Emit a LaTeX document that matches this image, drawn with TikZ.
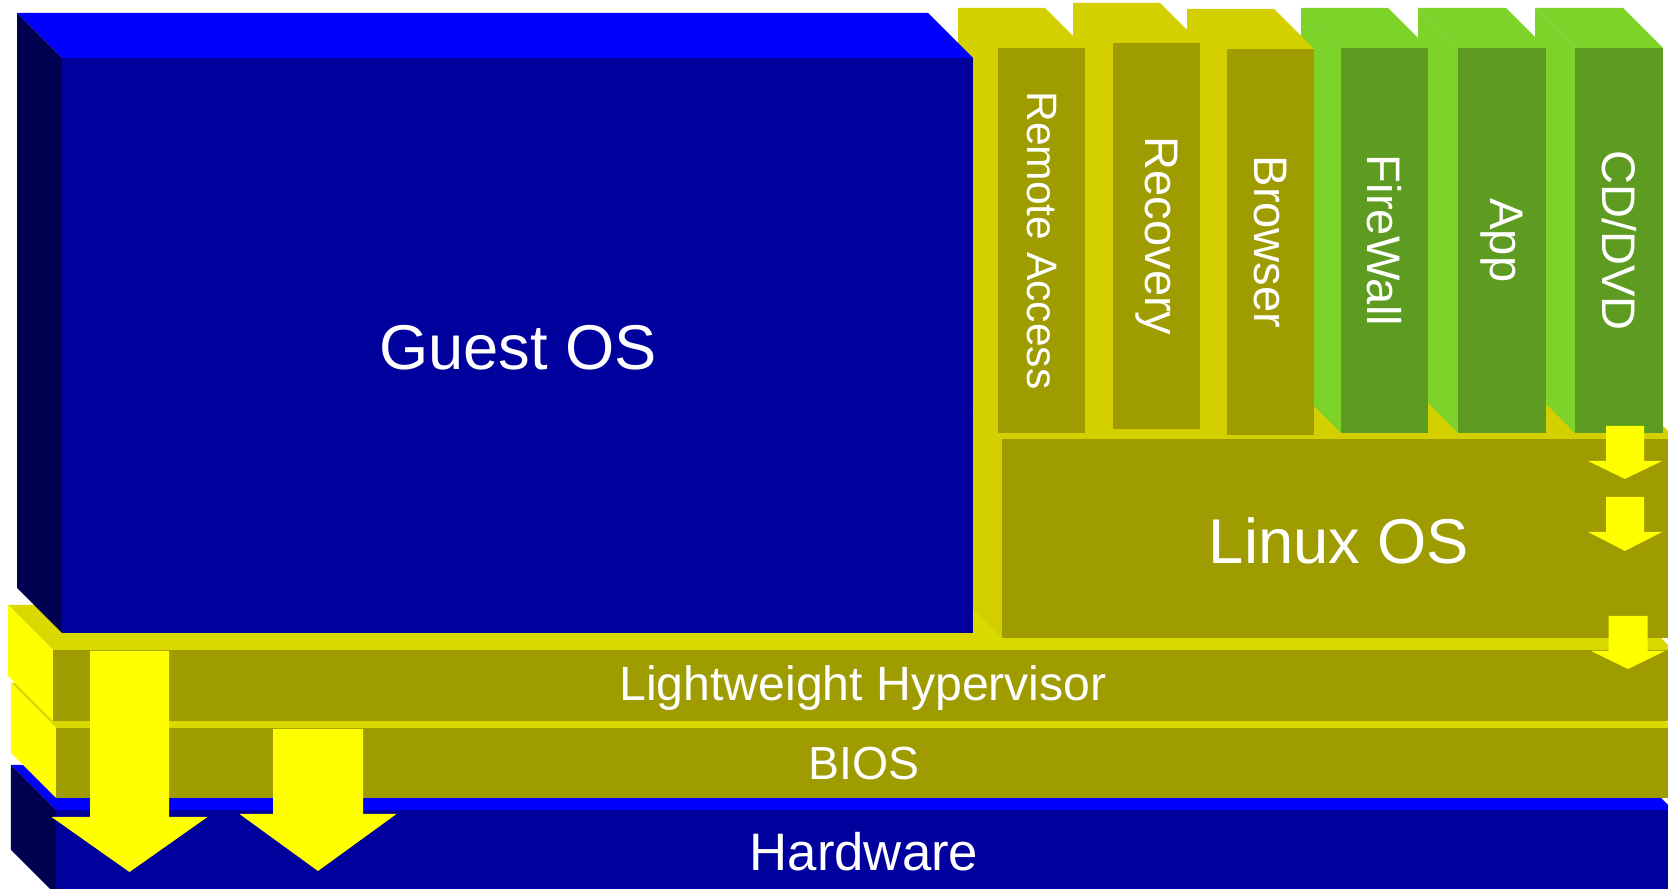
\documentclass[tikz,border=0pt]{standalone}
\usepackage{fontspec}
\setmainfont{Liberation Sans}
\usepackage{tikz}
\usepackage{xcolor}

\definecolor{topblue}{RGB}{0,0,255}
\definecolor{frontblue}{RGB}{0,0,156}
\definecolor{sideblue}{RGB}{0,0,80}
\definecolor{topolive}{RGB}{217,217,0}
\definecolor{sideolive}{RGB}{255,255,0}
\definecolor{frontolive}{RGB}{158,156,0}
\definecolor{lightolive}{RGB}{212,208,0}
\definecolor{topgreen}{RGB}{126,211,43}
\definecolor{frontgreen}{RGB}{94,156,33}
\definecolor{arrowyellow}{RGB}{255,255,0}

% front x1,y1,x2,y2, depth, top colour, side colour, front colour
\newcommand{\slab}[8]{%
  \fill[#6] (#1-#5,#2-#5) -- (#3-#5,#2-#5) -- (#3,#2) -- (#1,#2) -- cycle;
  \fill[#7] (#1-#5,#2-#5) -- (#1,#2) -- (#1,#4) -- (#1-#5,#4-#5) -- cycle;
  \fill[#8] (#1,#2) rectangle (#3,#4);
}
% centre x, half shaft, half head, top, neck, tip
\newcommand{\blockdown}[6]{%
  \fill[arrowyellow] (#1-#2,#4) -- (#1+#2,#4) -- (#1+#2,#5) -- (#1+#3,#5)
    -- (#1,#6) -- (#1-#3,#5) -- (#1-#2,#5) -- cycle;
}

\begin{document}
\begin{tikzpicture}[x=0.01cm,y=-0.01cm,
  biglbl/.style={text=white,font=\fontsize{18}{20}\selectfont},
  layerlbl/.style={text=white,font=\fontsize{13.7}{15}\selectfont},
  collbl/.style={text=white,rotate=-90,font=\fontsize{13.4}{15}\selectfont}]
  \useasboundingbox (0,0) rectangle (1668,889);
  \clip (0,0) rectangle (1668,889);

  % layers, from the bottom up
  \slab{56}{810}{1673}{895}{45}{topblue}{sideblue}{frontblue}
  \node[layerlbl,font=\fontsize{15}{17}\selectfont] (hardware) at (864,852) {Hardware};

  \slab{56}{728}{1673}{798}{45}{topolive}{sideolive}{frontolive}
  \node[layerlbl,font=\fontsize{13.2}{15}\selectfont] (bios) at (864,764) {BIOS};

  \slab{53}{650}{1673}{721}{45}{topolive}{sideolive}{frontolive}
  \node[layerlbl] (hypervisor) at (863,688) {Lightweight Hypervisor};

  \slab{1002}{439}{1676}{638}{45}{lightolive}{lightolive}{frontolive}
  \node[biglbl] (linux) at (1339,541) {Linux OS};

  % applications on top of Linux (right to left)
  \foreach \xa/\ya/\xb/\yb/\tp/\fr/\fs/\txt/\nm in {
      1575/48/1663/433/topgreen/frontgreen/13.4/{CD/DVD}/cddvd,
      1458/48/1546/433/topgreen/frontgreen/13.4/App/app,
      1341/48/1428/433/topgreen/frontgreen/13.4/FireWall/firewall,
      1227/49/1314/435/lightolive/frontolive/13.4/Browser/browser,
      1113/43/1200/429/lightolive/frontolive/13.4/Recovery/recovery,
      998/48/1085/433/lightolive/frontolive/12.1/Remote Access/remote}{
    \slab{\xa}{\ya}{\xb}{\yb}{40}{\tp}{\tp}{\fr}
    \node[collbl,font=\fontsize{\fs}{15}\selectfont] (\nm) at ({(\xa+\xb)/2},{(\ya+\yb)/2}) {\txt};
  }

  \slab{62}{58}{973}{633}{45}{topblue}{sideblue}{frontblue}
  \node[biglbl] (guest) at (518,348) {Guest OS};

  % arrows
  \blockdown{1625}{19}{37}{426}{461}{479}
  \blockdown{1625}{19}{37}{497}{532}{551}
  \blockdown{1628}{19.5}{37}{616}{651}{669}
  \blockdown{129.5}{39.5}{78}{651}{817}{872}
  \blockdown{318}{45}{78.5}{729}{814}{871}
\end{tikzpicture}
\end{document}
